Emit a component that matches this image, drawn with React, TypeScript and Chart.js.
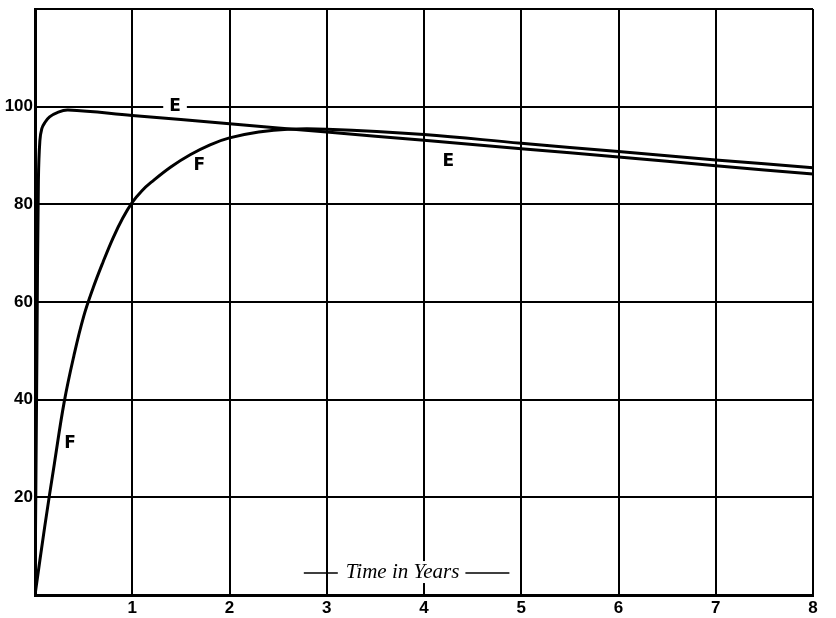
import React, { useEffect, useRef } from "react";
import { Chart, registerables } from "chart.js";

Chart.register(...registerables);

// Series E
const eX = [0, 0.02, 0.035, 0.05, 0.07, 0.1, 0.15, 0.24, 0.34, 1, 2, 3, 4, 5, 6, 7, 8];
const eY = [0, 50, 85, 93, 95.5, 96.7, 97.9, 98.9, 99.3, 98.2, 96.5, 94.8, 93.1, 91.4, 89.7, 87.9, 86.2];

// Series F
const fX = [0, 0.1, 0.2, 0.3, 0.4, 0.5, 0.6, 0.7, 0.8, 0.9, 1.0, 1.1, 1.2, 1.4, 1.6, 1.8, 2.0, 2.3, 2.6, 3, 4, 5, 6, 7, 8];
const fY = [0, 14, 27, 39.5, 49, 57, 63, 68.2, 73, 77.1, 80.4, 82.8, 84.6, 87.7, 90.2, 92.2, 93.6, 94.8, 95.4, 95.4, 94.3, 92.5, 90.8, 89.1, 87.5];

// Axis ticks
const xTicks = [1, 2, 3, 4, 5, 6, 7, 8];
const yTicks = [20, 40, 60, 80, 100];

// Curve labels
const labelText = ["E", "E", "F", "F"];
const labelX = [1.44, 4.25, 1.69, 0.36];
const labelY = [100, 88.7, 87.9, 31.1];
const labelBoxed = [true, false, false, false];

const axisTitle = "Time in Years";
const axisTitleX = 3.78;
const axisTitleY = 4.7;

export default function App() {
  const ref = useRef<HTMLCanvasElement>(null);
  useEffect(() => {
    const canvas = ref.current;
    if (!canvas) return;
    const labelsPlugin = {
      id: "curveLabels",
      afterDraw(chart: any) {
        const ctx = chart.ctx;
        const xs = chart.scales.x;
        const ys = chart.scales.y;
        ctx.save();
        ctx.font = "bold 17px 'DejaVu Sans'";
        ctx.textAlign = "center";
        ctx.textBaseline = "middle";
        for (let i = 0; i < labelText.length; i++) {
          const px = xs.getPixelForValue(labelX[i]);
          const py = ys.getPixelForValue(labelY[i]);
          if (labelBoxed[i]) {
            const w = ctx.measureText(labelText[i]).width;
            ctx.fillStyle = "#fff";
            ctx.fillRect(px - w / 2 - 6, py - 4, w + 12, 8);
          }
          ctx.fillStyle = "#000";
          ctx.fillText(labelText[i], px, py);
        }
        // axis title with dashes
        const tx = xs.getPixelForValue(axisTitleX);
        const ty = ys.getPixelForValue(axisTitleY);
        ctx.font = "italic 21px 'Liberation Serif'";
        const tw = ctx.measureText(axisTitle).width;
        ctx.fillStyle = "#fff";
        ctx.fillRect(tx - tw / 2 - 4, ty - 11, tw + 8, 22);
        ctx.fillStyle = "#000";
        ctx.fillText(axisTitle, tx, ty);
        ctx.strokeStyle = "#000";
        ctx.lineWidth = 1.5;
        ctx.beginPath();
        ctx.moveTo(tx - tw / 2 - 42, ty + 1);
        ctx.lineTo(tx - tw / 2 - 8, ty + 1);
        ctx.moveTo(tx + tw / 2 + 6, ty + 1);
        ctx.lineTo(tx + tw / 2 + 50, ty + 1);
        ctx.stroke();
        ctx.restore();
      },
    };
    const tickFont = { family: "Liberation Sans", weight: "bold" as const, size: 17 };
    const chart = new Chart(canvas, {
      type: "line",
      data: {
        datasets: [
          {
            label: "E",
            data: eX.map((x, i) => ({ x, y: eY[i] })),
            borderColor: "#000",
            borderWidth: 3,
            pointRadius: 0,
            tension: 0.4,
            fill: false,
          },
          {
            label: "F",
            data: fX.map((x, i) => ({ x, y: fY[i] })),
            borderColor: "#000",
            borderWidth: 3,
            pointRadius: 0,
            tension: 0.4,
            fill: false,
          },
        ],
      },
      options: {
        animation: false,
        responsive: false,
        maintainAspectRatio: false,
        layout: { padding: { top: 9, right: 23, left: 0, bottom: 0 } },
        plugins: { legend: { display: false }, tooltip: { enabled: false } },
        scales: {
          x: {
            type: "linear",
            min: 0,
            max: 8,
            afterFit: (s: any) => {
              s.height = 23;
              s.paddingLeft = 0;
              s.paddingRight = 0;
            },
            afterBuildTicks: (s: any) => {
              s.ticks = [0, ...xTicks].map((v) => ({ value: v }));
            },
            ticks: {
              color: "#000",
              font: tickFont,
              padding: 3,
              maxRotation: 0,
              callback: (v: any) => (xTicks.includes(v) ? String(v) : ""),
            },
            grid: { color: "#000", lineWidth: 2, drawTicks: false },
            border: { color: "#000", width: 3 },
          },
          y: {
            type: "linear",
            min: 0,
            max: 120,
            afterFit: (s: any) => {
              s.width = 35;
              s.paddingTop = 0;
              s.paddingBottom = 0;
            },
            afterBuildTicks: (s: any) => {
              s.ticks = [0, ...yTicks, 120].map((v) => ({ value: v }));
            },
            ticks: {
              color: "#000",
              font: tickFont,
              padding: 2,
              callback: (v: any) => (yTicks.includes(v) ? String(v) : ""),
            },
            grid: { color: "#000", lineWidth: 2, drawTicks: false },
            border: { color: "#000", width: 3 },
          },
        },
      },
      plugins: [labelsPlugin],
    });
    return () => chart.destroy();
  }, []);
  return (
    <div style={{ position: "fixed", left: 0, top: 0, width: 836, height: 618, background: "#fff" }}>
      <canvas ref={ref} width={836} height={618} />
    </div>
  );
}
